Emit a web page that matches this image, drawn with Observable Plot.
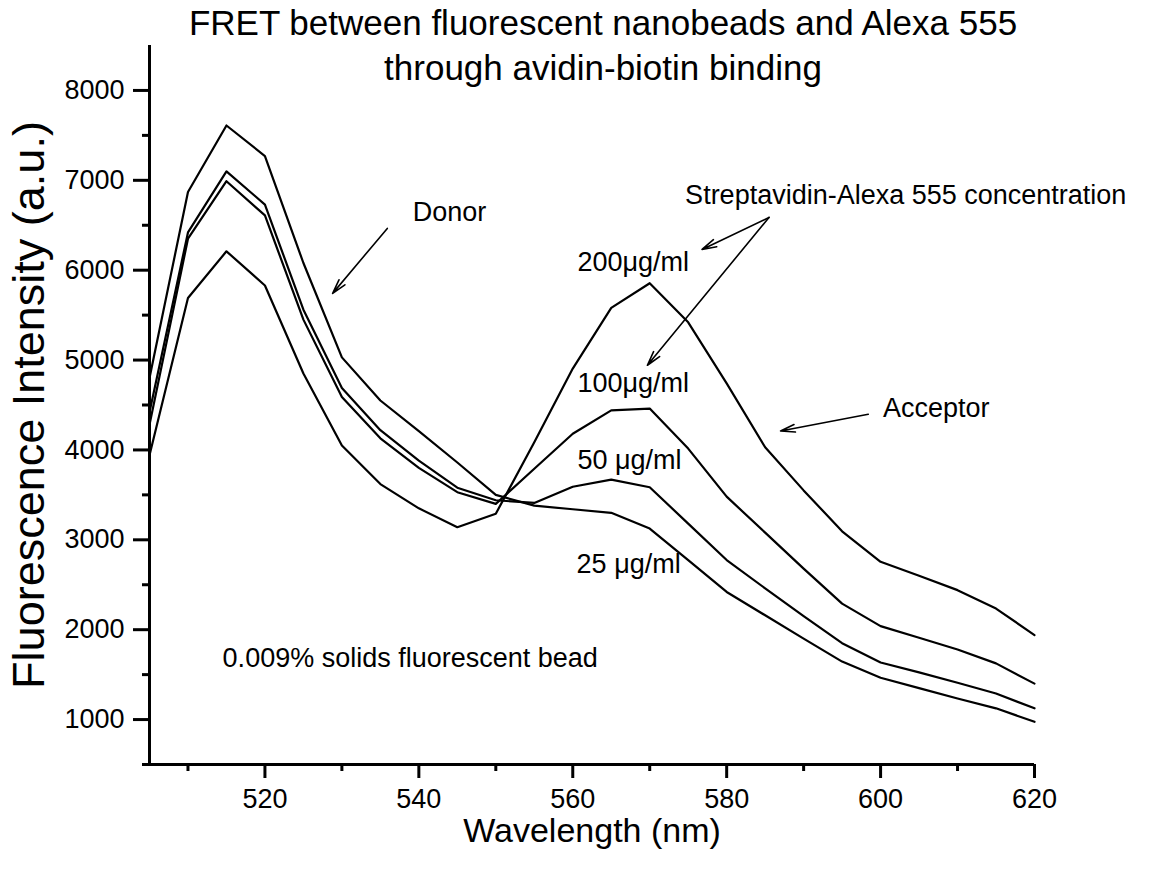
<!DOCTYPE html>
<html><head><meta charset="utf-8">
<script src="https://cdn.jsdelivr.net/npm/d3@7"></script>
<script src="https://cdn.jsdelivr.net/npm/@observablehq/plot@0.6"></script>
<style>
body{margin:0;background:#fff}
#chart{width:1164px;height:873px}
</style></head><body><div id="chart"></div>
<script>
const wavelength = [505,510,515,520,525,530,535,540,545,550,555,560,565,570,575,580,585,590,595,600,605,610,615,620];
const c25  = [4800,6870,7610,7270,6080,5030,4550,4210,3860,3500,3380,3340,3300,3125,2775,2420,2160,1900,1645,1465,1350,1235,1125,975];
const c50  = [4420,6420,7100,6730,5560,4690,4220,3880,3580,3440,3410,3590,3670,3585,3180,2775,2460,2150,1850,1635,1525,1410,1290,1125];
const c100 = [4280,6350,6990,6610,5450,4590,4130,3800,3530,3400,3790,4180,4440,4460,4015,3480,3080,2680,2290,2040,1910,1780,1625,1400];
const c200 = [3940,5690,6210,5830,4850,4050,3620,3350,3140,3290,4085,4905,5580,5855,5420,4740,4030,3550,3095,2755,2600,2440,2235,1940];
const seriesNames = ["25 μg/ml","50 μg/ml","100 μg/ml","200 μg/ml"];
const xMajor = [520,540,560,580,600,620];
const xMinor = [510,530,550,570,590,610];
const yMajor = [1000,2000,3000,4000,5000,6000,7000,8000];
const yMinor = [1500,2500,3500,4500,5500,6500,7500];

const noteText = ["Donor","Streptavidin-Alexa 555 concentration","200μg/ml","100μg/ml","50 μg/ml","25 μg/ml","Acceptor","0.009% solids fluorescent bead"];
const noteX = [539.2,574.6,560.6,560.6,560.6,560.5,600.3,514.5];
const noteY = [6640,6830,6090,4740,3885,2730,4463,1683];
const arrowX1 = [535.9,585.5,585.5,598.4];
const arrowY1 = [6465,6587,6587,4397];
const arrowX2 = [528.8,576.8,569.7,587.0];
const arrowY2 = [5742,6231,4942,4211];

const title = "FRET between fluorescent nanobeads and Alexa 555\nthrough avidin-biotin binding";
const xLabel = "Wavelength (nm)";
const yLabel = "Fluorescence Intensity (a.u.)";

const seriesValues = [c25,c50,c100,c200];
const rows = [];
seriesValues.forEach((vals,i) => vals.forEach((v,j) => rows.push({series: seriesNames[i], wavelength: wavelength[j], intensity: v})));
const notes = noteText.map((t,i) => ({text:t, x:noteX[i], y:noteY[i]}));
const arrows = arrowX1.map((_,i) => ({x1:arrowX1[i], y1:arrowY1[i], x2:arrowX2[i], y2:arrowY2[i]}));

const font = "'Liberation Sans', Arial, sans-serif";
const chart = Plot.plot({
  width: 1164, height: 873,
  marginLeft: 149, marginRight: 130, marginTop: 45, marginBottom: 109,
  style: {fontFamily: font, background: "white", color: "black"},
  x: {domain: [505, 620]},
  y: {domain: [500, 8500]},
  marks: [
    Plot.axisY({ticks: yMajor, tickSize: 16, tickPadding: 9, fontSize: 27, strokeWidth: 3, label: null, tickFormat: d => String(d)}),
    Plot.axisY({ticks: yMinor, tickSize: 7, strokeWidth: 3, label: null, tickFormat: () => ""}),
    Plot.axisX({ticks: xMajor, tickSize: 14, tickPadding: 10, fontSize: 27, strokeWidth: 3, label: null, tickFormat: d => String(d)}),
    Plot.axisX({ticks: xMinor, tickSize: 7, strokeWidth: 3, label: null, tickFormat: () => ""}),
    Plot.ruleX([505], {strokeWidth: 3}),
    Plot.ruleY([500], {strokeWidth: 3, insetLeft: -7}),
    Plot.line(rows, {x: "wavelength", y: "intensity", z: "series", stroke: "black", strokeWidth: 2.2}),
    Plot.text(notes, {x: "x", y: "y", text: "text", textAnchor: "start", fontSize: 27, fill: "black"}),
    Plot.arrow(arrows, {x1: "x1", y1: "y1", x2: "x2", y2: "y2", stroke: "black", strokeWidth: 1.6, headLength: 14, headAngle: 30}),
    Plot.text([title], {text: d => d, frameAnchor: "top", lineAnchor: "top", dy: -42, dx: 11, fontSize: 35, lineHeight: 1.27, fill: "black"}),
    Plot.text([xLabel], {text: d => d, frameAnchor: "bottom", lineAnchor: "middle", dy: 67, fontSize: 34, fill: "black"}),
    Plot.text([yLabel], {text: d => d, frameAnchor: "left", textAnchor: "middle", lineAnchor: "middle", rotate: -90, dx: -120, fontSize: 45, fill: "black"})
  ]
});
document.getElementById("chart").appendChild(chart);
</script></body></html>
